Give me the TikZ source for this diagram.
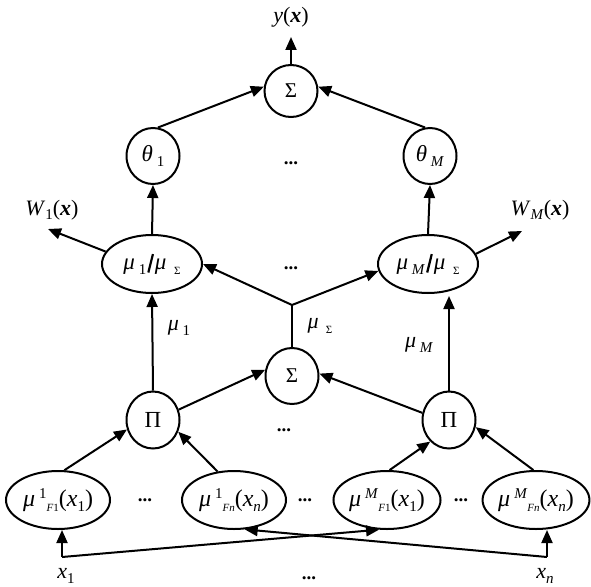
\documentclass[tikz,border=0pt]{standalone}
\usepackage{fontspec}
\usepackage{graphicx}
\setmainfont{Liberation Serif}
\usetikzlibrary{arrows.meta,shapes.geometric}
\newcommand\smf{\fontsize{15}{15}\selectfont}
\newcommand\tnf{\fontsize{11}{11}\selectfont}
\newcommand\sbs[1]{\raisebox{-0.45ex}{\smf #1}}
\newcommand\sps[1]{\raisebox{0.7ex}{\smf #1}}
\newcommand\bsl{\hspace{1pt}\raisebox{-3pt}{\rotatebox{-14}{\rule{2.2pt}{19pt}}}\hspace{1pt}}
\newcommand\bx{\textbf{\textit{x}}}
\newcommand\sigf{\fontsize{21}{21}\selectfont Σ}
\begin{document}
\begin{tikzpicture}[x=1pt,y=-1pt,
  nd/.style={draw, ellipse, line width=2pt, inner sep=0pt, font=\fontsize{23}{23}\selectfont},
  circ/.style={nd, minimum width=53pt, minimum height=56pt},
  oval/.style={nd, minimum width=100pt, minimum height=58pt},
  bov/.style={nd, minimum width=104pt, minimum height=58pt, font=\fontsize{24}{24}\selectfont},
  con/.style={line width=2pt},
  arr/.style={con, -{Triangle[length=13pt,width=11pt]}},
  lab/.style={inner sep=0pt, font=\fontsize{22}{22}\selectfont},
  dts/.style={inner sep=0pt, font=\fontsize{19}{19}\selectfont\bfseries}]
\useasboundingbox (0,0) rectangle (591,586);
% nodes
\node[circ, minimum height=52pt] (sigT) at (291,91) {\sigf};
\node[circ] (th1) at (153,156) {\textit{θ}\,\sbs{1}};
\node[circ] (thM) at (430,156) {\textit{θ}\,\sbs{\textit{M}}};
\node[oval] (r1) at (152,264) {\textit{μ}\,\sbs{1}\bsl\textit{μ}\,\,\sbs{\tnf Σ}};
\node[oval] (rM) at (428,264) {\textit{μ}\,\sbs{\textit{M}}\bsl\textit{μ}\,\,\sbs{\tnf Σ}};
\node[circ] (sigM) at (292,376) {\sigf};
\node[circ, minimum height=57pt] (pL) at (153,420) {Π};
\node[circ, minimum height=57pt] (pR) at (449,420) {Π};
\node[bov] (e1) at (58,500) {\textit{μ}\,\sps{1}\sbs{\tnf\textit{F}1}(\textit{x}\sbs{1})};
\node[bov] (e2) at (234,500) {\textit{μ}\,\sps{1}\sbs{\tnf\textit{Fn}}(\textit{x}\sbs{\textit{n}})};
\node[bov] (e3) at (387,500) {\textit{μ}\,\sps{\textit{M}}\sbs{\tnf\textit{F}1}(\textit{x}\sbs{1})};
\node[bov] (e4) at (536,500) {\textit{μ}\,\sps{\textit{M}}\sbs{\tnf\textit{Fn}}(\textit{x}\sbs{\textit{n}})};
% labels
\node[lab] (yx) at (291,17) {\textit{y}(\bx)};
\node[lab] (W1) at (52,210) {\textit{W}\sbs{1}(\bx)};
\node[lab] (WM) at (540,210) {\textit{W}\sbs{\textit{M}}(\bx)};
\node[lab] (mu1) at (179,328) {\textit{μ}\,\sbs{1}};
\node[lab] (muS) at (320,326) {\textit{μ}\,\,\sbs{\tnf Σ}};
\node[lab] (muM) at (419,345) {\textit{μ}\,\sbs{\textit{M}}};
\node[lab] (x1) at (66,576) {\textit{x}\sbs{1}};
\node[lab] (xn) at (545,576) {\textit{x}\sbs{\textit{n}}};
\node[dts] (d1) at (291,163) {...};
\node[dts] (d2) at (291,268) {...};
\node[dts] (d3) at (284,430) {...};
\node[dts] (d4) at (145,500) {...};
\node[dts] (d5) at (305,500) {...};
\node[dts] (d6) at (461,500) {...};
\node[dts] (d7) at (309,578) {...};
% coordinates
\coordinate (ytip) at (291,37);
\coordinate (W1tip) at (48,229);
\coordinate (WMtip) at (522,231);
\coordinate (J) at (292,305);
\coordinate (X1) at (62,557);
\coordinate (Xn) at (547,557);
% connectors
\draw[arr] (sigT.north) -- (ytip);
\draw[arr] (th1.80) -- (sigT.171);
\draw[arr] (thM.100) -- (sigT.9);
\draw[arr] (r1.north) -- (th1.south);
\draw[arr] (rM.north) -- (thM.south);
\draw[arr] (r1.165) -- (W1tip);
\draw[arr] (rM.12) -- (WMtip);
\draw[con] (sigM.north) -- (J);
\draw[arr] (J) -- (r1.east);
\draw[arr] (J) -- (rM.188);
\draw[arr] (pL.north) -- (r1.south);
\draw[arr, shorten >=2pt] (pR.north) -- (pR.north |- rM.south);
\draw[arr] (pL.22) -- (sigM.167);
\draw[arr] (pR.165) -- (sigM.5);
\draw[arr] (e1.78) -- (pL.200);
\draw[arr] (e2.120) -- (pL.335);
\draw[arr] (e3.85) -- (pR.229);
\draw[arr] (e4.95) -- (pR.345);
\draw[arr] (X1) -- (X1 |- e1.south);
\draw[arr] (Xn) -- (Xn |- e4.south);
\draw[arr] (X1) -- (e3.255);
\draw[arr] (Xn) -- (e2.290);
\end{tikzpicture}
\end{document}
